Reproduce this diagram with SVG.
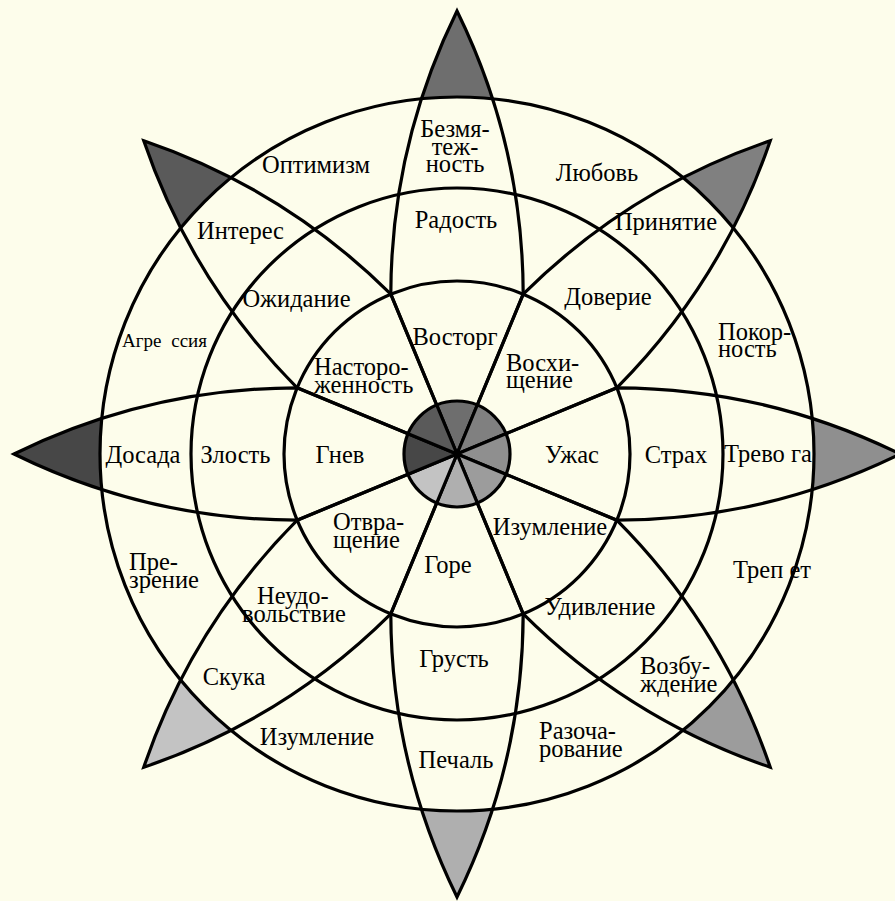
<svg xmlns="http://www.w3.org/2000/svg" xmlns:xlink="http://www.w3.org/1999/xlink" width="895" height="901" viewBox="0 0 895 901">
<style>
.bg{fill:#fdfdeb}
.edge{fill:none;stroke:#000;stroke-width:3.2;stroke-linejoin:miter}
.ring{fill:none;stroke:#000;stroke-width:3.2}
.t{font-size:24.5px;fill:#000;text-anchor:middle}
.s{text-anchor:start}
.sm{font-size:19px;word-spacing:5px}
</style>
<defs>
<path id="petal" d="M0 0 L66.2 -159.8 A646 646 0 0 0 0 -443 A646 646 0 0 0 -66.2 -159.8 Z"/>
<path id="wedge" d="M0 0 L20.3 -49 A53 53 0 0 0 -20.3 -49 Z"/>
<mask id="outside" maskUnits="userSpaceOnUse" x="-500" y="-500" width="1000" height="1000">
<rect x="-500" y="-500" width="1000" height="1000" fill="#fff"/>
<circle cx="0" cy="0" r="357" fill="#000"/>
</mask>
</defs>
<rect class="bg" x="0" y="0" width="895" height="901"/>
<g transform="translate(457 454)">
<g id="petal-joy" transform="rotate(0)"><use xlink:href="#petal" fill="#6e6e6e" mask="url(#outside)"/><use xlink:href="#wedge" fill="#6e6e6e"/><use xlink:href="#petal" class="edge"/></g>
<g id="petal-trust" transform="rotate(45)"><use xlink:href="#petal" fill="#808080" mask="url(#outside)"/><use xlink:href="#wedge" fill="#808080"/><use xlink:href="#petal" class="edge"/></g>
<g id="petal-fear" transform="rotate(90)"><use xlink:href="#petal" fill="#8f8f8f" mask="url(#outside)"/><use xlink:href="#wedge" fill="#8f8f8f"/><use xlink:href="#petal" class="edge"/></g>
<g id="petal-surprise" transform="rotate(135)"><use xlink:href="#petal" fill="#9c9c9c" mask="url(#outside)"/><use xlink:href="#wedge" fill="#9c9c9c"/><use xlink:href="#petal" class="edge"/></g>
<g id="petal-sadness" transform="rotate(180)"><use xlink:href="#petal" fill="#afafaf" mask="url(#outside)"/><use xlink:href="#wedge" fill="#afafaf"/><use xlink:href="#petal" class="edge"/></g>
<g id="petal-disgust" transform="rotate(225)"><use xlink:href="#petal" fill="#c3c3c3" mask="url(#outside)"/><use xlink:href="#wedge" fill="#c3c3c3"/><use xlink:href="#petal" class="edge"/></g>
<g id="petal-anger" transform="rotate(270)"><use xlink:href="#petal" fill="#474747" mask="url(#outside)"/><use xlink:href="#wedge" fill="#474747"/><use xlink:href="#petal" class="edge"/></g>
<g id="petal-anticipation" transform="rotate(315)"><use xlink:href="#petal" fill="#5a5a5a" mask="url(#outside)"/><use xlink:href="#wedge" fill="#5a5a5a"/><use xlink:href="#petal" class="edge"/></g>
<g id="rings">
<circle class="ring" r="357"/>
<circle class="ring" r="266"/>
<circle class="ring" r="173"/>
<circle class="ring" r="53"/>
</g>
</g>
<g id="labels" font-family="Liberation Serif, Times New Roman, DejaVu Serif, serif">
<g id="labels-joy">
<text class="t" x="455" y="345">Восторг</text>
<text class="t" x="456" y="228">Радость</text>
<text class="t" x="455" y="137">Безмя-</text>
<text class="t" x="455" y="155">теж-</text>
<text class="t" x="455" y="172">ность</text>
</g>
<g id="labels-trust">
<text class="t s" x="506" y="371">Восхи-</text>
<text class="t s" x="506" y="388">щение</text>
<text class="t" x="608" y="305">Доверие</text>
<text class="t" x="666" y="230">Принятие</text>
</g>
<g id="labels-fear">
<text class="t" x="572" y="463">Ужас</text>
<text class="t" x="676" y="463">Страх</text>
<text class="t" x="768" y="462">Трево га</text>
</g>
<g id="labels-surprise">
<text class="t" x="550" y="535">Изумление</text>
<text class="t" x="600" y="615">Удивление</text>
<text class="t s" x="640" y="674">Возбу-</text>
<text class="t s" x="640" y="692">ждение</text>
</g>
<g id="labels-sadness">
<text class="t" x="448" y="573">Горе</text>
<text class="t" x="454" y="667">Грусть</text>
<text class="t" x="456" y="768">Печаль</text>
</g>
<g id="labels-disgust">
<text class="t s" x="333" y="530">Отвра-</text>
<text class="t s" x="333" y="548">щение</text>
<text class="t s" x="257" y="604">Неудо-</text>
<text class="t s" x="242" y="622">вольствие</text>
<text class="t" x="234" y="685">Скука</text>
</g>
<g id="labels-anger">
<text class="t" x="340" y="463">Гнев</text>
<text class="t" x="235.5" y="463">Злость</text>
<text class="t" x="143" y="463">Досада</text>
</g>
<g id="labels-anticipation">
<text class="t s" x="314" y="375">Насторо-</text>
<text class="t s" x="314" y="393">женность</text>
<text class="t" x="296.5" y="307">Ожидание</text>
<text class="t" x="240.5" y="239">Интерес</text>
</g>
<g id="labels-dyads">
<text class="t" x="316" y="173">Оптимизм</text>
<text class="t" x="597" y="181">Любовь</text>
<text class="t s" x="718" y="340">Покор-</text>
<text class="t s" x="718" y="357">ность</text>
<text class="t" x="772" y="578">Треп ет</text>
<text class="t s" x="539" y="739">Разоча-</text>
<text class="t s" x="539" y="757">рование</text>
<text class="t" x="317" y="745">Изумление</text>
<text class="t s" x="129" y="570">Пре-</text>
<text class="t s" x="129" y="588">зрение</text>
<text class="t sm" x="164.5" y="347">Агре ссия</text>
</g>
</g>
</svg>
